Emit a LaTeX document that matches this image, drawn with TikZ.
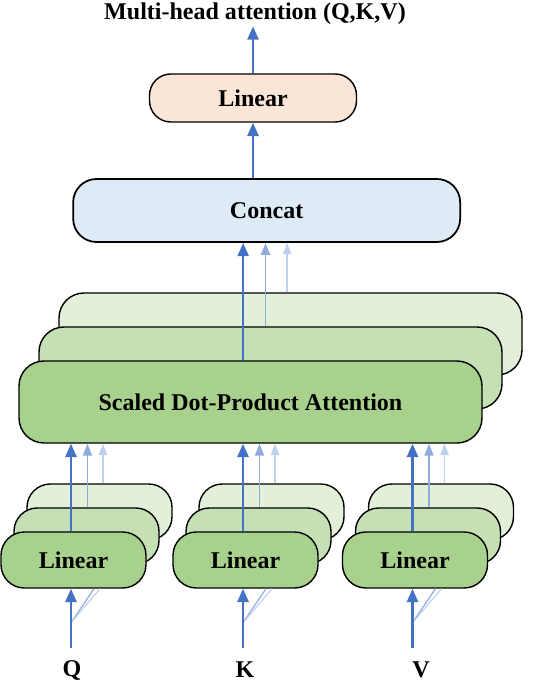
\documentclass[tikz,border=0pt]{standalone}
\usepackage{fontspec}
\setmainfont{Liberation Serif}
\usetikzlibrary{positioning}
\usetikzlibrary{arrows.meta}
\definecolor{gfront}{HTML}{A9D18E}
\definecolor{gmid}{HTML}{C5E0B4}
\definecolor{gback}{HTML}{E2F0D9}
\definecolor{bbox}{HTML}{DEEBF7}
\definecolor{obox}{HTML}{FBE5D6}
\definecolor{adark}{HTML}{4472C4}
\definecolor{amid}{HTML}{8FAADC}
\definecolor{alight}{HTML}{BDD0EC}
\tikzset{
    mynode/.style = {rectangle, draw=black, line width=1.2pt, align=center, inner sep=0pt},
    lin/.style = {mynode, minimum width=4.35cm, minimum height=1.68cm, rounded corners=0.7cm},
    att/.style = {mynode, minimum width=13.89cm, minimum height=2.46cm, rounded corners=0.75cm},
    mynodeo/.style = {mynode, fill=obox, minimum width=6.21cm, minimum height=1.44cm, rounded corners=0.64cm},
    mynodeb/.style = {mynode, fill=bbox, line width=1.5pt, minimum width=11.61cm, minimum height=1.89cm, rounded corners=0.7cm},
    edgeb/.style = {-{Triangle[length=0.4cm,width=0.33cm]}, line width=2.2pt, adark},
    edgem/.style = {-{Triangle[length=0.36cm,width=0.27cm]}, line width=1.5pt, amid},
    edgel/.style = {-{Triangle[length=0.34cm,width=0.25cm]}, line width=1.3pt, alight},
    fanm/.style = {line width=1pt, amid},
    fanl/.style = {line width=1pt, alight}
}

\begin{document}
\begin{tikzpicture}[font=\fontsize{20.5}{24}\selectfont\bfseries]
  \useasboundingbox (0,0) rectangle (15.96,20.55);

  % heads of the attention block
  \node[att, fill=gback] (att3) at (8.715,10.53) {};
  \node[att, fill=gmid] (att2) at (8.115,9.51) {};
  \node[att, fill=gfront] (att1) at (7.515,8.49) {Scaled Dot-Product Attention};

  % linear projections
  \node[lin, fill=gback] (lq3) at (2.985,5.19) {};
  \node[lin, fill=gmid] (lq2) at (2.595,4.47) {};
  \node[lin, fill=gfront] (lq1) at (2.205,3.75) {Linear};
  \node[lin, fill=gback] (lk3) at (8.145,5.19) {};
  \node[lin, fill=gmid] (lk2) at (7.755,4.47) {};
  \node[lin, fill=gfront] (lk1) at (7.365,3.75) {Linear};
  \node[lin, fill=gback] (lv3) at (13.23,5.19) {};
  \node[lin, fill=gmid] (lv2) at (12.84,4.47) {};
  \node[lin, fill=gfront] (lv1) at (12.45,3.75) {Linear};

  \node[mynodeb] (concat) at (8.0,14.235) {Concat};
  \node[mynodeo] (linear) at (7.59,17.61) {Linear};
  \node[inner sep=1pt] (out) at (7.65,20.13) {Multi-head attention (Q,K,V)};

  \node (q) at (2.16,0.45) {Q};
  \node (k) at (7.35,0.45) {K};
  \node (v) at (12.63,0.45) {V};

  % inputs
  \coordinate (qin) at ([xshift=-0.075cm,yshift=-1.77cm]lq1.south);
  \coordinate (qfan) at ([xshift=-0.075cm,yshift=-1.02cm]lq1.south);
  \coordinate (kin) at ([xshift=-0.075cm,yshift=-1.77cm]lk1.south);
  \coordinate (kfan) at ([xshift=-0.075cm,yshift=-1.02cm]lk1.south);
  \coordinate (vin) at ([xshift=-0.075cm,yshift=-1.77cm]lv1.south);
  \coordinate (vfan) at ([xshift=-0.075cm,yshift=-1.02cm]lv1.south);
  \draw[fanm] (qfan) -- ([xshift=0.69cm]qfan |- lq1.south);
  \draw[fanl] (qfan) -- ([xshift=0.87cm]qfan |- lq1.south);
  \draw[fanm] (kfan) -- ([xshift=0.69cm]kfan |- lk1.south);
  \draw[fanl] (kfan) -- ([xshift=0.87cm]kfan |- lk1.south);
  \draw[fanm] (vfan) -- ([xshift=0.69cm]vfan |- lv1.south);
  \draw[fanl] (vfan) -- ([xshift=0.87cm]vfan |- lv1.south);
  \draw[edgeb] (qin) -- (qin |- lq1.south);
  \draw[edgeb] (kin) -- (kin |- lk1.south);
  \draw[edgeb] (vin) -- (vin |- lv1.south);

  % linear -> attention
  \draw[edgeb] ([xshift=-0.075cm]lq1.north) -- ([xshift=-0.075cm]lq1.north |- att1.south);
  \draw[edgem] ([xshift=0.03cm]lq2.north) -- ([xshift=0.03cm]lq2.north |- att1.south);
  \draw[edgel] ([xshift=0.105cm]lq3.north) -- ([xshift=0.105cm]lq3.north |- att1.south);
  \draw[edgeb] ([xshift=-0.075cm]lk1.north) -- ([xshift=-0.075cm]lk1.north |- att1.south);
  \draw[edgem] ([xshift=0.03cm]lk2.north) -- ([xshift=0.03cm]lk2.north |- att1.south);
  \draw[edgel] ([xshift=0.105cm]lk3.north) -- ([xshift=0.105cm]lk3.north |- att1.south);
  \draw[edgeb] ([xshift=-0.075cm]lv1.north) -- ([xshift=-0.075cm]lv1.north |- att1.south);
  \draw[edgem] ([xshift=0.03cm]lv2.north) -- ([xshift=0.03cm]lv2.north |- att1.south);
  \draw[edgel] ([xshift=0.105cm]lv3.north) -- ([xshift=0.105cm]lv3.north |- att1.south);

  % attention -> concat -> linear
  \draw[edgeb] ([xshift=-0.22cm]att1.north) -- ([xshift=-0.22cm]att1.north |- concat.south);
  \draw[edgem] ([xshift=-0.15cm]att2.north) -- ([xshift=-0.15cm]att2.north |- concat.south);
  \draw[edgel] ([xshift=-0.1cm]att3.north) -- ([xshift=-0.1cm]att3.north |- concat.south);
  \draw[edgeb] (linear.south |- concat.north) -- (linear.south);
  \draw[edgeb] (linear.north) -- (linear.north |- out.south);
\end{tikzpicture}
\end{document}
